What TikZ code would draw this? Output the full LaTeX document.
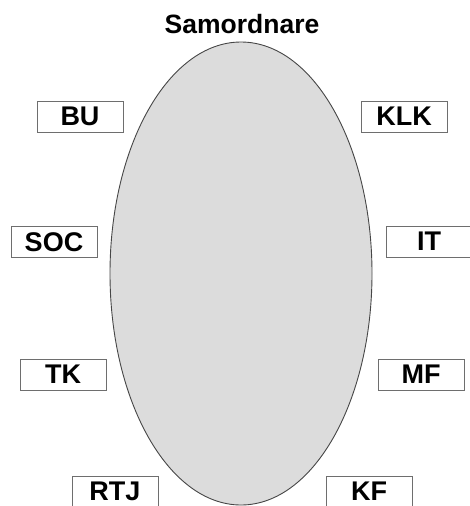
\documentclass[tikz,border=0pt]{standalone}
\usepackage{fontspec}
\setmainfont{Liberation Sans}
\usetikzlibrary{positioning}
\definecolor{ovalgray}{RGB}{220,220,220}
\definecolor{edgegray}{RGB}{70,70,70}
\definecolor{boxgray}{RGB}{110,110,110}

\begin{document}
\begin{tikzpicture}[x=1pt,y=-1pt,
  unit/.style={draw=boxgray, line width=0.9pt, fill=white, minimum width=86pt,
    minimum height=31pt, inner sep=0pt, font=\fontsize{27}{30}\selectfont\bfseries}]
\useasboundingbox (0,0) rectangle (469,506);
% Oval in the middle
\fill[ovalgray] (241,273.5) ellipse [x radius=131, y radius=231.5];
\draw[edgegray, line width=0.9pt] (241,273.5) ellipse [x radius=131, y radius=231.5];
\node[font=\fontsize{26.5}{30}\selectfont\bfseries] (title) at (242,24) {Samordnare};
% Units on the left
\node[unit] (bu) at (80,116.5) {BU};
\node[unit] (soc) at (54,242) {SOC};
\node[unit] (tk) at (63,374.5) {TK};
\node[unit] (rtj) at (115,491.5) {RTJ};
% Units on the right
\node[unit] (klk) at (404,116.5) {KLK};
\node[unit] (it) at (429,241.5) {IT};
\node[unit] (mf) at (421,374.5) {MF};
\node[unit] (kf) at (369,491.5) {KF};
\end{tikzpicture}
\end{document}
